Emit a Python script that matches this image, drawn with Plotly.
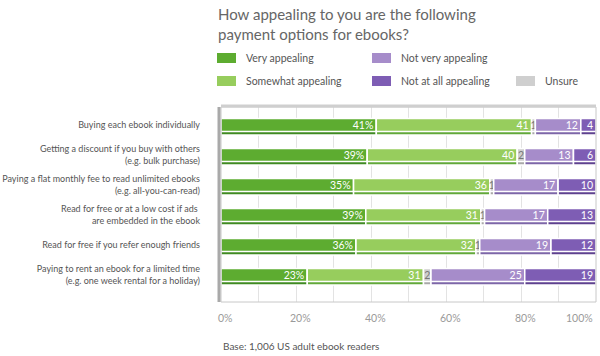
import plotly.graph_objects as go

categories = [
    "Buying each ebook individually",
    "Getting a discount if you buy with others<br>(e.g. bulk purchase)",
    "Paying a flat monthly fee to read unlimited ebooks<br>(e.g. all-you-can-read)",
    "Read for free or at a low cost if ads <br>are embedded in the ebook",
    "Read for free if you refer enough friends",
    "Paying to rent an ebook for a limited time<br>(e.g. one week rental for a holiday)",
]
very_appealing = [41, 39, 35, 39, 36, 23]
somewhat_appealing = [41, 40, 36, 31, 32, 31]
unsure = [1, 2, 1, 1, 1, 2]
not_very_appealing = [12, 13, 17, 17, 19, 25]
not_at_all_appealing = [4, 6, 10, 13, 12, 19]
x_tick_vals = [0, 20, 40, 60, 80, 100]
x_tick_text = ["0%", "20%", "40%", "60%", "80%", "100%"]

FONT = "Lato"

series = [
    ("Very appealing", very_appealing, "#5dac30", "#3f8a22", "white", True),
    ("Somewhat appealing", somewhat_appealing, "#97cd5d", "#62a83a", "white", False),
    ("Unsure", unsure, "#cfcfcf", "#a8a8a8", "#777777", False),
    ("Not very appealing", not_very_appealing, "#a68cca", "#7d66a8", "white", False),
    ("Not at all appealing", not_at_all_appealing, "#7e5db4", "#5e418f", "white", False),
]

W, H = 600, 356
ML, MR, MT, MB = 221, 4, 107, 54
PW, PH = W - ML - MR, H - MT - MB

def px(x):
    return (x - ML) / PW

def py(y):
    return (H - MB - y) / PH

n = len(categories)
ypos = list(range(n))
totals = [sum(s[1][i] for s in series) for i in range(n)]

fig = go.Figure()
base = [0.0] * n
bar_w = 0.53
for name, vals, color, shade, tcol, pct in series:
    widths = [v / totals[i] * 100 for i, v in enumerate(vals)]
    texts = [f"{v}%" if pct else f"{v}" for v in vals]
    # shadow
    fig.add_trace(go.Bar(
        y=[p + 0.07 for p in ypos], x=widths, base=base, orientation="h",
        width=bar_w, marker=dict(color=shade, line=dict(color="white", width=1.5)),
        hoverinfo="skip", showlegend=False,
    ))
    fig.add_trace(go.Bar(
        y=ypos, x=widths, base=base, orientation="h", name=name,
        width=bar_w - 0.1, text=texts,
        textposition="inside", textangle=0,
        insidetextanchor="middle" if name == "Unsure" else "end",
        constraintext="none",
        textfont=dict(color=tcol, size=10.5, family=FONT),
        marker=dict(color=color, line=dict(color="white", width=1.5)),
        showlegend=False,
    ))
    base = [b + w for b, w in zip(base, widths)]

fig.update_layout(
    width=W, height=H, barmode="overlay",
    margin=dict(l=ML, r=MR, t=MT, b=MB, autoexpand=False),
    paper_bgcolor="white", plot_bgcolor="white",
    font=dict(family=FONT, color="#555555"),
    showlegend=False,
    xaxis=dict(
        range=[0, 100], tickvals=[0, 10, 20, 30, 40, 50, 60, 70, 80, 90, 100],
        showticklabels=False,
        showgrid=True, gridcolor="#e3e3e3", gridwidth=1,
        ticks="", zeroline=False, fixedrange=True, automargin=False,
    ),
    yaxis=dict(
        range=[n - 1 + 0.9, -0.6], tickvals=ypos, ticktext=categories,
        tickfont=dict(size=9, color="#555555"), ticks="", ticklabelstandoff=20,
        showgrid=False, zeroline=False, fixedrange=True, automargin=False,
    ),
)

shapes = []
# frame
shapes.append(dict(type="rect", xref="paper", yref="paper", x0=0, x1=1, y0=0, y1=1,
                   line=dict(color="#c8c8c8", width=1), layer="above"))
shapes.append(dict(type="line", xref="paper", yref="paper", x0=px(219), x1=px(219), y0=0, y1=1,
                   line=dict(color="#a9a9a9", width=3), layer="above"))
shapes.append(dict(type="line", xref="paper", yref="paper", x0=0, x1=1, y0=py(106), y1=py(106),
                   line=dict(color="#cfcfcf", width=3), layer="above"))

annotations = []
# x tick labels
for i, (tv, tt) in enumerate(zip(x_tick_vals, x_tick_text)):
    last = i == len(x_tick_vals) - 1
    annotations.append(dict(text=tt, xref="x", yref="paper", x=tv, y=py(318),
                            xanchor="right" if last else "center", yanchor="middle",
                            xshift=-1 if last else 4, showarrow=False,
                            font=dict(size=10.5, color="#9a9a9a")))
# legend
legend_items = [
    (series[0][0], series[0][2], 217, 53),
    (series[1][0], series[1][2], 217, 76),
    (series[3][0], series[3][2], 372, 53),
    (series[4][0], series[4][2], 372, 76),
    (series[2][0], series[2][2], 516, 76),
]
for name, color, lx, ly in legend_items:
    shapes.append(dict(type="rect", xref="paper", yref="paper",
                       x0=px(lx), x1=px(lx + 19), y0=py(ly + 10), y1=py(ly),
                       fillcolor=color, line=dict(width=0)))
    annotations.append(dict(text=name, xref="paper", yref="paper", x=px(lx + 27), y=py(ly + 5),
                            xanchor="left", yanchor="middle", showarrow=False,
                            font=dict(size=10.5, color="#555555")))

annotations.append(dict(text="How appealing to you are the following<br>payment options for ebooks?",
                        xref="paper", yref="paper", x=px(216), y=py(3), xanchor="left", yanchor="top",
                        align="left", showarrow=False,
                        font=dict(size=15, color="#666666")))
annotations.append(dict(text="Base: 1,006 US adult ebook readers", xref="paper", yref="paper",
                        x=px(221), y=py(346), xanchor="left", yanchor="middle", showarrow=False,
                        font=dict(size=10, color="#555555")))

fig.update_layout(shapes=shapes, annotations=annotations)
fig.write_html("out.html", config={"displayModeBar": False},
               post_script="document.body.style.margin='0';")
